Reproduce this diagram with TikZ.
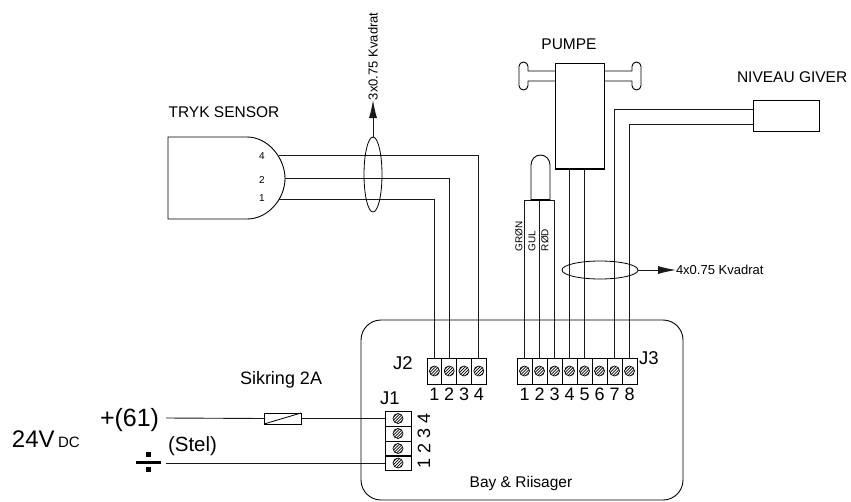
\documentclass[tikz,border=0pt]{standalone}
\usepackage{fontspec}
\setmainfont{Liberation Sans}
\usetikzlibrary{arrows.meta,shapes.geometric}
\newcommand{\fs}[1]{\fontsize{#1}{#1}\selectfont}
\tikzset{
  x=1pt,y=-1pt,
  wire/.style={line width=0.9pt,black!90},
  outline/.style={line width=0.9pt,black},
  cell/.style={draw,line width=0.9pt,minimum width=14.8pt,minimum height=26pt,inner sep=0pt,outer sep=0pt},
  jcell/.style={draw,line width=0.9pt,minimum width=26pt,minimum height=15pt,inner sep=0pt,outer sep=0pt},
  lab/.style={inner sep=0pt,outer sep=0pt},
  numlab/.style={lab,font=\fs{18}},
  head/.style={-{Latex[length=18pt,width=8pt]}},
}
\newcommand{\screw}[1]{%
  \begin{scope}
    \clip (#1) circle (5pt);
    \foreach \d in {-6,-3,0,3,6}
      \draw[line width=0.7pt] ([shift={(\d-6,6)}]#1) -- ([shift={(\d+6,-6)}]#1);
  \end{scope}
  \draw[line width=0.7pt] (#1) circle (5pt);
}
\begin{document}
\begin{tikzpicture}
\useasboundingbox (0,0) rectangle (851,501);
% board
\node[draw,line width=0.9pt,rounded corners=20pt,minimum width=322pt,minimum height=180pt,inner sep=0pt,outer sep=0pt] (board) at (522,410) {};
\node[lab,font=\fs{15.5}] (bay) at (521,483) {Bay \& Riisager};
% J2
\foreach \i in {1,...,4}{
  \node[cell] (j2-\i) at ({427+14.8*(\i-0.5)},371) {};
  \screw{j2-\i.center}
  \node[numlab] (j2n-\i) at ({427+14.8*(\i-0.5)},394) {\i};
}
\node[lab,font=\fs{18.5}] (j2) at (403,363) {J2};
% J3
\foreach \i in {1,...,8}{
  \node[cell,minimum width=15pt] (j3-\i) at ({517+15*(\i-0.5)},371) {};
  \screw{j3-\i.center}
  \node[numlab] (j3n-\i) at ({517+15*(\i-0.5)},394) {\i};
}
\node[lab,font=\fs{18.5},anchor=west] (j3) at (639,358) {J3};
% J1
\foreach \i/\y in {4/418.5,3/433.5,2/448.5,1/463}{
  \node[jcell] (j1-\i) at (398,\y) {};
  \screw{j1-\i.center}
  \node[numlab,rotate=90] (j1n-\i) at (424,\y) {\i};
}
\node[lab,font=\fs{18.5}] (j1) at (390,398) {J1};
% tryk sensor
\draw[outline] (168,137) -- (247,137) .. controls (268,137) and (285,158) .. (285,178.5) .. controls (285,199) and (268,219) .. (247,219) -- (168,219) -- cycle;
\coordinate (s4) at (279,155);
\coordinate (s2) at (285,178.5);
\coordinate (s1) at (279,199.5);
\node[lab,font=\fs{15.5}] (tryk) at (224,112) {TRYK SENSOR};
\node[lab,font=\fs{10}] (p4) at (262,156) {4};
\node[lab,font=\fs{10}] (p2) at (262,180) {2};
\node[lab,font=\fs{10}] (p1) at (262,198.5) {1};
\draw[wire] (s4) -| (j2-4.north);
\draw[wire] (s2) -| (j2-2.north);
\draw[wire] (s1) -| (j2-1.north);
\node[draw,ellipse,line width=0.8pt,minimum width=18pt,minimum height=75pt,inner sep=0pt,outer sep=0pt] (e1) at (373,174.5) {};
\node[lab,font=\fs{13},rotate=90,anchor=west] (k3) at (373,100) {3x0.75 Kvadrat};
\draw[wire,head] (e1.north) -- (k3.west);
% pump
\node[lab,font=\fs{15.5}] (pumpe) at (569,44) {PUMPE};
\draw[outline] (555,71) -- (528,71) -- (528,66.5) arc[start angle=0,end angle=180,radius=4.5pt] -- (519,85.5) arc[start angle=180,end angle=360,radius=4.5pt] -- (528,81) -- (555,81);
\draw[outline] (604,71) -- (632,71) -- (632,66.5) arc[start angle=180,end angle=0,radius=4.5pt] -- (641,85.5) arc[start angle=0,end angle=-180,radius=4.5pt] -- (632,81) -- (604,81);
\node[draw,line width=0.9pt,minimum width=49pt,minimum height=106pt,inner sep=0pt,outer sep=0pt] (pump) at (579.5,116) {};
\draw[line width=1.3pt] (pump.south west) -- (pump.south east);
\draw[wire] (j3-4.north) -- (j3-4.north |- pump.south);
\draw[wire] (j3-5.north) -- (j3-5.north |- pump.south);
% probe
\draw[outline] (531,200) -- (531,165) arc[start angle=180,end angle=0,x radius=9.5pt,y radius=10pt] -- (550,200);
\coordinate (pb) at (540,200);
\draw[wire] (j3-1.north) -- (j3-1.north |- pb) -- (j3-3.north |- pb) -- (j3-3.north);
\draw[wire] (j3-2.north) -- (j3-2.north |- pb);
\draw[line width=1.4pt] (531,200) -- (550,200);
\node[lab,font=\fs{10},rotate=90,anchor=west] (gron) at (519,251) {GRØN};
\node[lab,font=\fs{10},rotate=90,anchor=west] (gul) at (532,251) {GUL};
\node[lab,font=\fs{10},rotate=90,anchor=west] (rod) at (545,251) {RØD};
% niveau
\node[lab,font=\fs{15.5},anchor=west] (niveau) at (737,77) {NIVEAU GIVER};
\node[draw,line width=0.9pt,minimum width=66pt,minimum height=31pt,inner sep=0pt,outer sep=0pt] (giver) at (786,115.5) {};
\coordinate (g1) at (giver.west |- 0,109);
\coordinate (g2) at (giver.west |- 0,124);
\draw[wire] (g1) -| (j3-7.north);
\draw[wire] (g2) -| (j3-8.north);
\node[draw,ellipse,line width=0.8pt,minimum width=76pt,minimum height=18pt,inner sep=0pt,outer sep=0pt] (e2) at (600,270) {};
\node[lab,font=\fs{13},anchor=west] (k4) at (676,270) {4x0.75 Kvadrat};
\draw[wire,head] (e2.east) -- (k4.west);
% power
\node[lab,font=\fs{24},anchor=base west] (v24) at (12,447) {24V};
\node[lab,font=\fs{15},anchor=base west] (dc) at (58,447) {DC};
\node[lab,font=\fs{25},anchor=base west] (plus) at (100,426) {+(61)};
\node[lab,font=\fs{20.5},anchor=base west] (stel) at (168,451) {(Stel)};
\coordinate (fusl) at (166,418);
\node[draw,line width=0.9pt,minimum width=37pt,minimum height=11pt,inner sep=0pt,outer sep=0pt] (fuse) at (282.5,418.5) {};
\node[lab,font=\fs{18},anchor=base west] (sik) at (240,384) {Sikring 2A};
\draw[line width=0.8pt] (fuse.south west) -- (fuse.north east);
\draw[wire] (fusl) -- (fuse.west);
\draw[wire] (fuse.east) -- (j1-4.west);
\coordinate (stl) at (166,463);
\draw[wire] (stl) -- (j1-1.west);
\fill (136,460.5) rectangle (161,464);
\fill (146,451.5) rectangle (151,456.5);
\fill (146,466.5) rectangle (151,471.5);
\end{tikzpicture}
\end{document}
